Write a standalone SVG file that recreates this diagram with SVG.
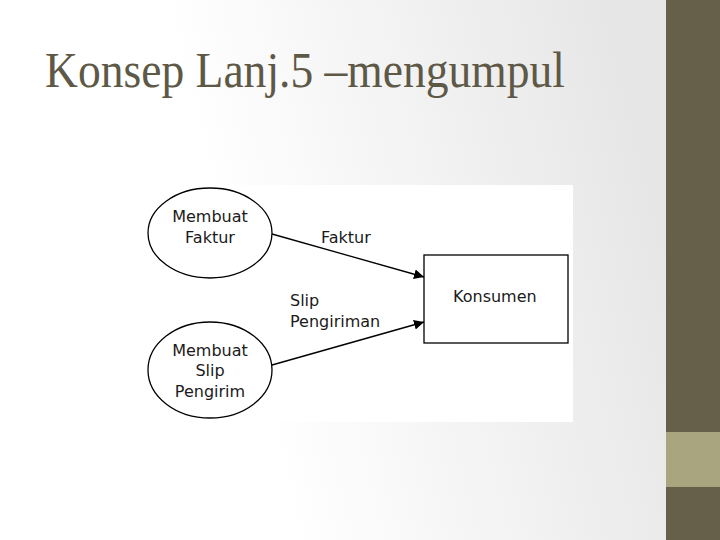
<svg xmlns="http://www.w3.org/2000/svg" width="720" height="540" viewBox="0 0 720 540">
<defs>
<linearGradient id="bg" x1="0" y1="0.6" x2="1" y2="0.4">
<stop offset="0.35" stop-color="#ffffff"/>
<stop offset="1" stop-color="#e6e6e6"/>
</linearGradient>
<marker id="arr" viewBox="0 0 10 10" refX="10" refY="5" markerWidth="10" markerHeight="10" markerUnits="userSpaceOnUse" orient="auto">
<path d="M0,0 L10,5 L0,10 z" fill="#000"/>
</marker>
<style>
.shape{fill:#fff;stroke:#000;stroke-width:1.3}
.lbl{font-family:"DejaVu Sans","Liberation Sans",sans-serif;font-size:16px;fill:#1a1a1a}
.mid{text-anchor:middle}
.conn{stroke:#000;stroke-width:1.3;fill:none;marker-end:url(#arr)}
</style>
</defs>
<rect x="0" y="0" width="666" height="540" fill="url(#bg)"/>
<rect x="666" y="0" width="54" height="540" fill="#665f4a"/>
<rect x="666" y="432" width="54" height="55" fill="#a8a57f"/>
<text x="45" y="87" font-family="'Liberation Serif',serif" font-size="50" fill="#5e5847" textLength="520" lengthAdjust="spacingAndGlyphs">Konsep Lanj.5 –mengumpul</text>
<rect x="140" y="185" width="433" height="237" fill="#ffffff"/>
<g id="membuat-faktur">
<ellipse class="shape" cx="210" cy="233" rx="62" ry="45"/>
<text class="lbl mid" x="210" y="222">Membuat</text>
<text class="lbl mid" x="210" y="243">Faktur</text>
</g>
<g id="membuat-slip">
<ellipse class="shape" cx="210" cy="370" rx="62" ry="48"/>
<text class="lbl mid" x="210" y="356">Membuat</text>
<text class="lbl mid" x="210" y="376">Slip</text>
<text class="lbl mid" x="210" y="397">Pengirim</text>
</g>
<g id="konsumen">
<rect class="shape" x="424" y="255" width="144" height="88"/>
<text class="lbl" x="453" y="302">Konsumen</text>
</g>
<g id="connectors">
<line class="conn" x1="272" y1="234" x2="424" y2="277"/>
<line class="conn" x1="272" y1="365" x2="424" y2="322"/>
<text class="lbl" x="321" y="243">Faktur</text>
<text class="lbl" x="290" y="306">Slip</text>
<text class="lbl" x="290" y="327">Pengiriman</text>
</g>
</svg>
